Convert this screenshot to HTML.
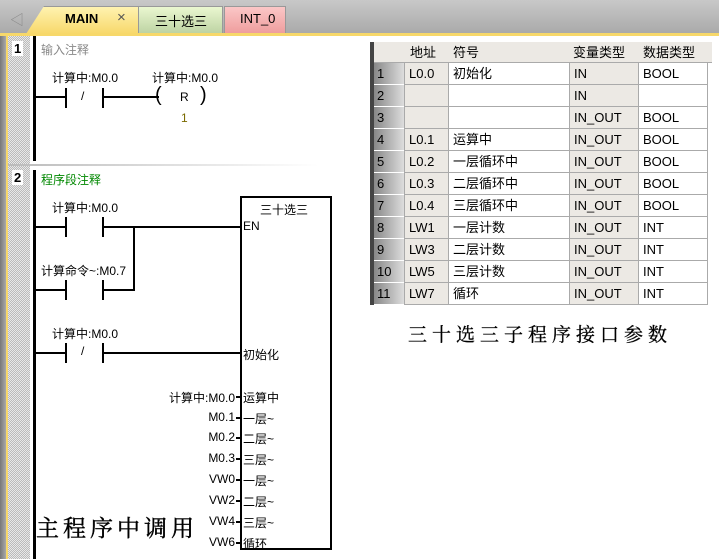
<!DOCTYPE html>
<html><head><meta charset="utf-8"><style>
*{margin:0;padding:0;box-sizing:border-box}
body{width:719px;height:559px;overflow:hidden;background:#fff;position:relative;font-family:"Liberation Sans","Noto Sans CJK SC",sans-serif;font-size:12px;color:#000}
.a{position:absolute;white-space:nowrap}
.l{position:absolute;background:#000}
.r{text-align:right}
.t{font-size:13px;line-height:16px}
</style></head><body>
<!-- top bar -->
<div class="a" style="left:0;top:0;width:719px;height:34px;background:linear-gradient(#c8c8c8,#a9a9a9)"></div>
<div class="a" style="top:10px;left:10px;color:#888;font-size:14px">◁</div>
<div class="a" style="left:26px;top:6px;width:112px;height:28px;background:linear-gradient(#fff3b0,#f7d86a);clip-path:polygon(18px 0,100% 0,100% 100%,0 100%);border-top:1px solid #999"></div>
<div class="a" style="left:65px;top:11px;font-weight:bold;font-size:13px">MAIN</div>
<div class="a" style="left:117px;top:9px;font-size:15px;color:#555">×</div>
<div class="a" style="left:138px;top:6px;width:85px;height:28px;background:linear-gradient(#eaf7d0,#bcd2a2);border:1px solid #999;border-bottom:none"></div>
<div class="a" style="left:155px;top:11px;font-size:13px">三十选三</div>
<div class="a" style="left:224px;top:6px;width:62px;height:28px;background:linear-gradient(#fbc7c7,#ee9c9c);border:1px solid #999;border-bottom:none"></div>
<div class="a" style="left:240px;top:11px;font-size:13px">INT_0</div>
<div class="a" style="left:0;top:33px;width:719px;height:3px;background:#f7d86a"></div>
<!-- left gutter -->
<div class="a" style="left:0;top:36px;width:6px;height:523px;background:linear-gradient(90deg,#777,#aaa)"></div>
<div class="a" style="left:6px;top:36px;width:2px;height:523px;background:#f7d86a"></div>
<div class="a" style="left:8px;top:36px;width:22px;height:523px;background:repeating-conic-gradient(#bbb 0 25%,#e8e8e8 0 50%) 0 0/2px 2px"></div>
<div class="a" style="left:12px;top:41px;font-weight:bold;font-size:13px;background:#fff;padding:0 2px">1</div>
<div class="a" style="left:12px;top:170px;font-weight:bold;font-size:13px;background:#fff;padding:0 2px">2</div>
<div class="l" style="left:33px;top:36px;width:3px;height:125px"></div>
<div class="l" style="left:33px;top:170px;width:3px;height:389px"></div>
<div class="a" style="left:8px;top:164px;width:310px;height:2px;background:linear-gradient(90deg,#bbb,#fff)"></div>
<!-- network 1 -->
<div class="a" style="left:41px;top:41px;color:#888">输入注释</div>
<div class="a" style="left:52px;top:69px">计算中:M0.0</div>
<div class="a" style="left:152px;top:69px">计算中:M0.0</div>
<div class="l" style="left:35px;top:96px;width:31px;height:2px"></div>
<div class="l" style="left:65px;top:88px;width:2px;height:20px"></div>
<div class="l" style="left:102px;top:88px;width:2px;height:20px"></div>
<div class="a" style="left:81px;top:89px">/</div>
<div class="l" style="left:103px;top:96px;width:56px;height:2px"></div>
<div class="a" style="left:155px;top:84px;font-size:20px">(</div>
<div class="a" style="left:180px;top:90px">R</div>
<div class="a" style="left:200px;top:84px;font-size:20px">)</div>
<div class="a" style="left:181px;top:111px;color:#7a6a00">1</div>
<!-- network 2 -->
<div class="a" style="left:41px;top:171px;color:#080">程序段注释</div>
<div class="a" style="left:52px;top:199px">计算中:M0.0</div>
<div class="l" style="left:35px;top:226px;width:31px;height:2px"></div>
<div class="l" style="left:65px;top:217px;width:2px;height:20px"></div>
<div class="l" style="left:102px;top:217px;width:2px;height:20px"></div>
<div class="l" style="left:103px;top:226px;width:138px;height:2px"></div>
<div class="l" style="left:133px;top:226px;width:2px;height:65px"></div>
<div class="a" style="left:41px;top:262px">计算命令~:M0.7</div>
<div class="l" style="left:35px;top:289px;width:31px;height:2px"></div>
<div class="l" style="left:65px;top:280px;width:2px;height:20px"></div>
<div class="l" style="left:102px;top:280px;width:2px;height:20px"></div>
<div class="l" style="left:103px;top:289px;width:32px;height:2px"></div>
<div class="a" style="left:52px;top:325px">计算中:M0.0</div>
<div class="l" style="left:35px;top:352px;width:31px;height:2px"></div>
<div class="l" style="left:65px;top:343px;width:2px;height:20px"></div>
<div class="l" style="left:102px;top:343px;width:2px;height:20px"></div>
<div class="a" style="left:81px;top:344px">/</div>
<div class="l" style="left:103px;top:352px;width:138px;height:2px"></div>
<!-- box -->
<div class="a" style="left:240px;top:196px;width:92px;height:354px;border:2px solid #000;background:#fff"></div>
<div class="a" style="left:260px;top:201px">三十选三</div>
<div class="a" style="left:243px;top:219px">EN</div>
<div class="a" style="left:243px;top:346px">初始化</div>
<div class="a" style="left:243px;top:389px">运算中</div>
<div class="a" style="left:243px;top:410px">一层~</div>
<div class="a" style="left:243px;top:430px">二层~</div>
<div class="a" style="left:243px;top:451px">三层~</div>
<div class="a" style="left:243px;top:472px">一层~</div>
<div class="a" style="left:243px;top:493px">二层~</div>
<div class="a" style="left:243px;top:514px">三层~</div>
<div class="a" style="left:243px;top:535px">循环</div>
<div class="a r" style="right:484px;top:389px">计算中:M0.0</div>
<div class="a r" style="right:484px;top:410px">M0.1</div>
<div class="a r" style="right:484px;top:430px">M0.2</div>
<div class="a r" style="right:484px;top:451px">M0.3</div>
<div class="a r" style="right:484px;top:472px">VW0</div>
<div class="a r" style="right:484px;top:493px">VW2</div>
<div class="a r" style="right:484px;top:514px">VW4</div>
<div class="a r" style="right:484px;top:535px">VW6</div>
<div class="l" style="left:236px;top:396px;width:4px;height:2px"></div>
<div class="l" style="left:236px;top:417px;width:4px;height:2px"></div>
<div class="l" style="left:236px;top:437px;width:4px;height:2px"></div>
<div class="l" style="left:236px;top:458px;width:4px;height:2px"></div>
<div class="l" style="left:236px;top:479px;width:4px;height:2px"></div>
<div class="l" style="left:236px;top:500px;width:4px;height:2px"></div>
<div class="l" style="left:236px;top:521px;width:4px;height:2px"></div>
<div class="l" style="left:236px;top:542px;width:4px;height:2px"></div>
<div class="a" style="left:36px;top:510px;font-size:23px;letter-spacing:4px;font-family:'Liberation Serif','Noto Serif CJK SC',serif;-webkit-text-stroke:0.4px #000">主程序中调用</div>
<!-- table -->
<div class="a" style="left:370px;top:42px;width:4px;height:263px;background:#444"></div>
<div class="a t" style="left:374px;top:42px;width:338px;height:21px;background:#ece9e4;border-bottom:1px solid #aaa"></div>
<div class="a t" style="left:410px;top:45px">地址</div>
<div class="a t" style="left:453px;top:45px">符号</div>
<div class="a t" style="left:573px;top:45px">变量类型</div>
<div class="a t" style="left:643px;top:45px">数据类型</div>
<div id="rows"></div>
<div class="a" style="left:408px;top:320px;font-size:19px;letter-spacing:5px;font-family:'Liberation Serif','Noto Serif CJK SC',serif;-webkit-text-stroke:0.3px #000">三十选三子程序接口参数</div>
<script>
var d=[["L0.0","初始化","IN","BOOL"],["","","IN",""],["","","IN_OUT","BOOL"],["L0.1","运算中","IN_OUT","BOOL"],["L0.2","一层循环中","IN_OUT","BOOL"],["L0.3","二层循环中","IN_OUT","BOOL"],["L0.4","三层循环中","IN_OUT","BOOL"],["LW1","一层计数","IN_OUT","INT"],["LW3","二层计数","IN_OUT","INT"],["LW5","三层计数","IN_OUT","INT"],["LW7","循环","IN_OUT","INT"]];
var h="";
d.forEach(function(r,i){var y=63+i*22;
h+='<div class="a t" style="left:374px;top:'+y+'px;width:30px;height:22px;background:linear-gradient(90deg,#888,#ddd);border-bottom:1px solid #fff;padding:3px 0 0 3px">'+(i+1)+'</div>';
h+='<div class="a t" style="left:404px;top:'+y+'px;width:45px;height:22px;background:#ece9e4;border:1px solid #aaa;border-top:none;padding:3px 0 0 4px">'+r[0]+'</div>';
h+='<div class="a t" style="left:449px;top:'+y+'px;width:120px;height:22px;background:#fff;border-bottom:1px solid #aaa;padding:3px 0 0 4px">'+r[1]+'</div>';
h+='<div class="a t" style="left:569px;top:'+y+'px;width:70px;height:22px;background:#ece9e4;border:1px solid #aaa;border-top:none;padding:3px 0 0 4px">'+r[2]+'</div>';
h+='<div class="a t" style="left:639px;top:'+y+'px;width:69px;height:22px;background:#fff;border-bottom:1px solid #aaa;border-right:1px solid #aaa;padding:3px 0 0 4px">'+r[3]+'</div>';});
document.getElementById("rows").innerHTML=h;
</script>
</body></html>
